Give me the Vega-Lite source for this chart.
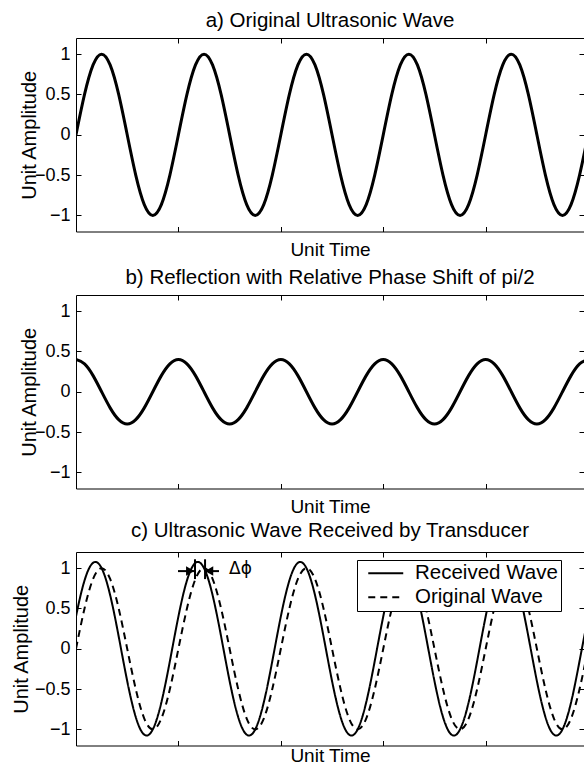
{
  "$schema": "https://vega.github.io/schema/vega-lite/v6.json",
  "padding": {"left": 10, "top": 10, "right": 0, "bottom": 0},
  "autosize": {"type": "pad"},
  "background": "white",
  "spacing": 63,
  "bounds": "flush",
  "resolve": {"legend": {"strokeDash": "independent"}},
  "config": {
    "font": "Liberation Sans",
    "view": {"stroke": "black", "strokeWidth": 1},
    "axis": {"domain": false, "grid": false, "tickColor": "black", "tickSize": -5, "tickWidth": 1,
      "labelFont": "Liberation Sans", "labelFontSize": 18, "labelColor": "black", "labelPadding": 11,
      "titleFont": "Liberation Sans", "titleFontSize": 19, "titleFontWeight": "normal", "titleColor": "black"},
    "axisY": {"titleFontSize": 20},
    "title": {"font": "Liberation Sans", "fontSize": 20.5, "fontWeight": "normal", "color": "black", "baseline": "alphabetic", "offset": 6},
    "legend": {"labelFont": "Liberation Sans", "labelFontSize": 20.5, "labelColor": "black"}
  },
  "datasets": {
    "a": [
      {"t":0,"v":0},{"t":0.0833,"v":0.5},{"t":0.1667,"v":0.866},{"t":0.25,"v":1},{"t":0.3333,"v":0.866},{"t":0.4167,"v":0.5},{"t":0.5,"v":0},{"t":0.5833,"v":-0.5},{"t":0.6667,"v":-0.866},{"t":0.75,"v":-1},{"t":0.8333,"v":-0.866},{"t":0.9167,"v":-0.5},
      {"t":1,"v":0},{"t":1.0833,"v":0.5},{"t":1.1667,"v":0.866},{"t":1.25,"v":1},{"t":1.3333,"v":0.866},{"t":1.4167,"v":0.5},{"t":1.5,"v":0},{"t":1.5833,"v":-0.5},{"t":1.6667,"v":-0.866},{"t":1.75,"v":-1},{"t":1.8333,"v":-0.866},{"t":1.9167,"v":-0.5},
      {"t":2,"v":0},{"t":2.0833,"v":0.5},{"t":2.1667,"v":0.866},{"t":2.25,"v":1},{"t":2.3333,"v":0.866},{"t":2.4167,"v":0.5},{"t":2.5,"v":0},{"t":2.5833,"v":-0.5},{"t":2.6667,"v":-0.866},{"t":2.75,"v":-1},{"t":2.8333,"v":-0.866},{"t":2.9167,"v":-0.5},
      {"t":3,"v":0},{"t":3.0833,"v":0.5},{"t":3.1667,"v":0.866},{"t":3.25,"v":1},{"t":3.3333,"v":0.866},{"t":3.4167,"v":0.5},{"t":3.5,"v":0},{"t":3.5833,"v":-0.5},{"t":3.6667,"v":-0.866},{"t":3.75,"v":-1},{"t":3.8333,"v":-0.866},{"t":3.9167,"v":-0.5},
      {"t":4,"v":0},{"t":4.0833,"v":0.5},{"t":4.1667,"v":0.866},{"t":4.25,"v":1},{"t":4.3333,"v":0.866},{"t":4.4167,"v":0.5},{"t":4.5,"v":0},{"t":4.5833,"v":-0.5},{"t":4.6667,"v":-0.866},{"t":4.75,"v":-1},{"t":4.8333,"v":-0.866},{"t":4.9167,"v":-0.5},
      {"t":5,"v":0}
    ],
    "b": [
      {"t":0,"v":0.4},{"t":0.0833,"v":0.346},{"t":0.1667,"v":0.2},{"t":0.25,"v":0},{"t":0.3333,"v":-0.2},{"t":0.4167,"v":-0.346},{"t":0.5,"v":-0.4},{"t":0.5833,"v":-0.346},{"t":0.6667,"v":-0.2},{"t":0.75,"v":0},{"t":0.8333,"v":0.2},{"t":0.9167,"v":0.346},
      {"t":1,"v":0.4},{"t":1.0833,"v":0.346},{"t":1.1667,"v":0.2},{"t":1.25,"v":0},{"t":1.3333,"v":-0.2},{"t":1.4167,"v":-0.346},{"t":1.5,"v":-0.4},{"t":1.5833,"v":-0.346},{"t":1.6667,"v":-0.2},{"t":1.75,"v":0},{"t":1.8333,"v":0.2},{"t":1.9167,"v":0.346},
      {"t":2,"v":0.4},{"t":2.0833,"v":0.346},{"t":2.1667,"v":0.2},{"t":2.25,"v":0},{"t":2.3333,"v":-0.2},{"t":2.4167,"v":-0.346},{"t":2.5,"v":-0.4},{"t":2.5833,"v":-0.346},{"t":2.6667,"v":-0.2},{"t":2.75,"v":0},{"t":2.8333,"v":0.2},{"t":2.9167,"v":0.346},
      {"t":3,"v":0.4},{"t":3.0833,"v":0.346},{"t":3.1667,"v":0.2},{"t":3.25,"v":0},{"t":3.3333,"v":-0.2},{"t":3.4167,"v":-0.346},{"t":3.5,"v":-0.4},{"t":3.5833,"v":-0.346},{"t":3.6667,"v":-0.2},{"t":3.75,"v":0},{"t":3.8333,"v":0.2},{"t":3.9167,"v":0.346},
      {"t":4,"v":0.4},{"t":4.0833,"v":0.346},{"t":4.1667,"v":0.2},{"t":4.25,"v":0},{"t":4.3333,"v":-0.2},{"t":4.4167,"v":-0.346},{"t":4.5,"v":-0.4},{"t":4.5833,"v":-0.346},{"t":4.6667,"v":-0.2},{"t":4.75,"v":0},{"t":4.8333,"v":0.2},{"t":4.9167,"v":0.346},
      {"t":5,"v":0.4}
    ],
    "r": [
      {"t":-0.0606,"v":0},{"t":0.0227,"v":0.539},{"t":0.1061,"v":0.933},{"t":0.1894,"v":1.077},{"t":0.2727,"v":0.933},{"t":0.3561,"v":0.539},{"t":0.4394,"v":0},{"t":0.5227,"v":-0.539},{"t":0.6061,"v":-0.933},{"t":0.6894,"v":-1.077},{"t":0.7727,"v":-0.933},{"t":0.8561,"v":-0.539},
      {"t":0.9394,"v":0},{"t":1.0227,"v":0.539},{"t":1.1061,"v":0.933},{"t":1.1894,"v":1.077},{"t":1.2727,"v":0.933},{"t":1.3561,"v":0.539},{"t":1.4394,"v":0},{"t":1.5227,"v":-0.539},{"t":1.6061,"v":-0.933},{"t":1.6894,"v":-1.077},{"t":1.7727,"v":-0.933},{"t":1.8561,"v":-0.539},
      {"t":1.9394,"v":0},{"t":2.0227,"v":0.539},{"t":2.1061,"v":0.933},{"t":2.1894,"v":1.077},{"t":2.2727,"v":0.933},{"t":2.3561,"v":0.539},{"t":2.4394,"v":0},{"t":2.5227,"v":-0.539},{"t":2.6061,"v":-0.933},{"t":2.6894,"v":-1.077},{"t":2.7727,"v":-0.933},{"t":2.8561,"v":-0.539},
      {"t":2.9394,"v":0},{"t":3.0227,"v":0.539},{"t":3.1061,"v":0.933},{"t":3.1894,"v":1.077},{"t":3.2727,"v":0.933},{"t":3.3561,"v":0.539},{"t":3.4394,"v":0},{"t":3.5227,"v":-0.539},{"t":3.6061,"v":-0.933},{"t":3.6894,"v":-1.077},{"t":3.7727,"v":-0.933},{"t":3.8561,"v":-0.539},
      {"t":3.9394,"v":0},{"t":4.0227,"v":0.539},{"t":4.1061,"v":0.933},{"t":4.1894,"v":1.077},{"t":4.2727,"v":0.933},{"t":4.3561,"v":0.539},{"t":4.4394,"v":0},{"t":4.5227,"v":-0.539},{"t":4.6061,"v":-0.933},{"t":4.6894,"v":-1.077},{"t":4.7727,"v":-0.933},{"t":4.8561,"v":-0.539},
      {"t":4.9394,"v":0},{"t":5.0227,"v":0.539}
    ],
    "harr": [{"t":0.996,"t2":1.152,"v":0.963},{"t":1.26,"t2":1.396,"v":0.963}],
    "vlin": [{"t":1.162,"v":0.864,"v2":1.11},{"t":1.26,"v":0.864,"v2":1.11}],
    "headR": [{"t":1.115,"v":0.963}],
    "headL": [{"t":1.3,"v":0.963}],
    "lab": [{"t":1.494,"v":0.99,"s":"Δϕ"}]
  },
  "vconcat": [
    {
      "title": {"text": "a) Original Ultrasonic Wave", "offset": 6},
      "width": 508, "height": 193.5,
      "layer": [
        {"data": {"name": "a"}, "mark": {"type": "line", "opacity": 0, "clip": true},
         "encoding": {
           "x": {"field": "t", "type": "quantitative", "scale": {"domain": [0, 4.96], "nice": false, "zero": false}, "axis": {"orient": "top", "values": [1,2,3,4], "labels": false, "title": null}},
           "y": {"field": "v", "type": "quantitative", "scale": {"domain": [-1.2, 1.2], "nice": false}, "axis": {"orient": "right", "values": [-1,-0.5,0,0.5,1], "labels": false, "title": null}}
         }},
        {"data": {"name": "a"}, "mark": {"type": "line", "color": "black", "strokeWidth": 3, "interpolate": "natural", "clip": true},
         "encoding": {
           "x": {"field": "t", "type": "quantitative", "scale": {"domain": [0, 4.96], "nice": false, "zero": false}, "axis": {"orient": "bottom", "values": [1,2,3,4], "labels": false, "title": "Unit Time", "titlePadding": 8}},
           "y": {"field": "v", "type": "quantitative", "scale": {"domain": [-1.2, 1.2], "nice": false}, "axis": {"orient": "left", "values": [-1,-0.5,0,0.5,1], "format": "~g", "title": "Unit Amplitude", "titlePadding": -5}}
         }}
      ],
      "resolve": {"axis": {"x": "independent", "y": "independent"}}
    },
    {
      "title": {"text": "b) Reflection with Relative Phase Shift of pi/2", "offset": 6},
      "width": 508, "height": 193.5,
      "layer": [
        {"data": {"name": "b"}, "mark": {"type": "line", "opacity": 0, "clip": true},
         "encoding": {
           "x": {"field": "t", "type": "quantitative", "scale": {"domain": [0, 4.96], "nice": false, "zero": false}, "axis": {"orient": "top", "values": [1,2,3,4], "labels": false, "title": null}},
           "y": {"field": "v", "type": "quantitative", "scale": {"domain": [-1.2, 1.2], "nice": false}, "axis": {"orient": "right", "values": [-1,-0.5,0,0.5,1], "labels": false, "title": null}}
         }},
        {"data": {"name": "b"}, "mark": {"type": "line", "color": "black", "strokeWidth": 3, "interpolate": "natural", "clip": true},
         "encoding": {
           "x": {"field": "t", "type": "quantitative", "scale": {"domain": [0, 4.96], "nice": false, "zero": false}, "axis": {"orient": "bottom", "values": [1,2,3,4], "labels": false, "title": "Unit Time", "titlePadding": 8}},
           "y": {"field": "v", "type": "quantitative", "scale": {"domain": [-1.2, 1.2], "nice": false}, "axis": {"orient": "left", "values": [-1,-0.5,0,0.5,1], "format": "~g", "title": "Unit Amplitude", "titlePadding": -5}}
         }}
      ],
      "resolve": {"axis": {"x": "independent", "y": "independent"}}
    },
    {
      "title": {"text": "c) Ultrasonic Wave Received by Transducer", "offset": 10},
      "width": 508, "height": 193.5,
      "layer": [
        {"data": {"name": "a"}, "mark": {"type": "line", "opacity": 0, "clip": true},
         "encoding": {
           "x": {"field": "t", "type": "quantitative", "scale": {"domain": [0, 4.96], "nice": false, "zero": false}, "axis": {"orient": "top", "values": [1,2,3,4], "labels": false, "title": null}},
           "y": {"field": "v", "type": "quantitative", "scale": {"domain": [-1.2, 1.2], "nice": false}, "axis": {"orient": "right", "values": [-1,-0.5,0,0.5,1], "labels": false, "title": null}}
         }},
        {
          "encoding": {
            "x": {"field": "t", "type": "quantitative", "scale": {"domain": [0, 4.96], "nice": false, "zero": false}, "axis": {"orient": "bottom", "values": [1,2,3,4], "labels": false, "title": "Unit Time", "titlePadding": 0}},
            "y": {"field": "v", "type": "quantitative", "scale": {"domain": [-1.2, 1.2], "nice": false}, "axis": {"orient": "left", "values": [-1,-0.5,0,0.5,1], "format": "~g", "title": "Unit Amplitude", "titlePadding": 3}}
          },
          "layer": [
            {"data": {"name": "r"}, "mark": {"type": "line", "color": "black", "strokeWidth": 2, "interpolate": "natural", "clip": true},
             "encoding": {"strokeDash": {"datum": "Received Wave", "scale": {"domain": ["Received Wave", "Original Wave"], "range": [[1,0],[7,5]]},
               "legend": {"orient": "none", "legendX": 281, "legendY": 8, "title": null, "symbolType": "M-1.944,0H1.944", "symbolSize": 324, "symbolStrokeWidth": 2, "symbolStrokeColor": "black", "symbolOffset": 15.5, "strokeColor": "black", "fillColor": "white", "padding": 3, "rowPadding": 3, "labelOffset": 19, "labelFontSize": 20.5}}}},
            {"data": {"name": "a"}, "mark": {"type": "line", "color": "black", "strokeWidth": 2, "interpolate": "natural", "clip": true},
             "encoding": {"strokeDash": {"datum": "Original Wave"}}},
            {"data": {"name": "harr"}, "mark": {"type": "rule", "color": "black", "strokeWidth": 2},
             "encoding": {"x2": {"field": "t2"}}},
            {"data": {"name": "vlin"}, "mark": {"type": "rule", "color": "black", "strokeWidth": 2},
             "encoding": {"y2": {"field": "v2"}}},
            {"data": {"name": "headR"}, "mark": {"type": "point", "shape": "triangle-right", "filled": true, "color": "black", "opacity": 1, "size": 90}},
            {"data": {"name": "headL"}, "mark": {"type": "point", "shape": "triangle-left", "filled": true, "color": "black", "opacity": 1, "size": 90}},
            {"data": {"name": "lab"}, "mark": {"type": "text", "align": "left", "baseline": "middle", "font": "DejaVu Sans", "fontSize": 17, "color": "black"},
             "encoding": {"text": {"field": "s"}}}
          ]
        }
      ],
      "resolve": {"axis": {"x": "independent", "y": "independent"}}
    }
  ]
}
